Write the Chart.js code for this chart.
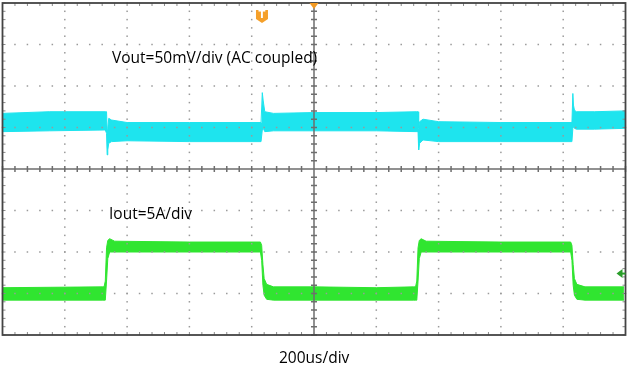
<!DOCTYPE html>
<html>
<head>
<meta charset="utf-8">
<script src="https://cdn.jsdelivr.net/npm/chart.js@4.4.0/dist/chart.umd.min.js"></script>
<style>
html, body { margin: 0; padding: 0; background: #fff; }
#wrap { position: relative; width: 630px; height: 369px; }
.lbl { position: absolute; font-family: "Open Sans", sans-serif; font-size: 15.5px; line-height: 15px; color: #000; white-space: nowrap; }
</style>
</head>
<body>
<div id="wrap">
  <canvas id="scope" width="630" height="369"></canvas>
  <div class="lbl" style="left:112px;top:50px">Vout=50mV/div (AC coupled)</div>
  <div class="lbl" style="left:109px;top:206px">Iout=5A/div</div>
  <div class="lbl" style="left:279px;top:350px">200us/div</div>
</div>
<script>
// scope settings
const timeDivUs = 200;   // 200us/div, 10 divisions
const voltDivMv = 50;    // Vout 50mV/div
const ampDivA = 5;       // Iout 5A/div
const triggerTimeUs = 833;
const triggerLevelA = 2.4;

// Vout (AC coupled) noise band, mV: upper and lower edge of the trace
const vTime  = [0, 150, 330, 334, 336, 338, 341, 350, 400, 600, 830, 832, 834, 837, 842, 870, 1000, 1200, 1330, 1334, 1336, 1339, 1350, 1400, 1600, 1828, 1831, 1833, 1836, 1842, 1900, 2000];
const vUpper = [10, 12, 12, 12, -12, -8, 4, 2, -1, -1, -1, -1, 35, 25, 12, 10, 11, 11, 12, 12, -8, 0, 3, 0, -1, -1, 34, 20, 14, 12, 12, 13];
const vLower = [-12, -11, -10, -14, -40, -34, -26, -24, -23, -24, -24, -24, -10, -8, -12, -11, -11, -11, -12, -12, -34, -26, -22, -24, -24, -24, -8, -6, -8, -9, -9, -8];

// Iout noise band, A
const iTime  = [0, 320, 326, 330, 334, 338, 344, 360, 600, 828, 832, 836, 840, 848, 870, 1000, 1200, 1320, 1326, 1330, 1334, 1338, 1344, 1360, 1600, 1824, 1828, 1832, 1836, 1844, 1870, 1995];
const iUpper = [0.7, 0.8, 0.8, 1.5, 5.5, 6.4, 6.6, 6.3, 6.2, 6.2, 5.8, 3.5, 1.8, 1.1, 0.8, 0.8, 0.7, 0.8, 0.8, 1.5, 5.5, 6.4, 6.6, 6.3, 6.2, 6.2, 5.8, 3.5, 1.8, 1.1, 0.8, 0.8];
const iLower = [-0.8, -0.8, -0.8, -0.8, 1.5, 4.2, 5.0, 5.0, 5.0, 5.0, 4.0, 1.0, -0.2, -0.7, -0.8, -0.8, -0.8, -0.8, -0.8, -0.8, 1.5, 4.2, 5.0, 5.0, 5.0, 5.0, 4.0, 1.0, -0.2, -0.7, -0.8, -0.8];

const vMin = -257, vMax = 143;   // 8 div of Vout, offset +1.14 div
const iMin = -5, iMax = 35;      // 8 div of Iout, offset -3 div

const cyan = '#1ee4ee';
const green = '#30e530';

function pts(xs, ys) { return xs.map((t, k) => ({ x: t, y: ys[k] })); }

const scopeGrid = {
  id: 'scopeGrid',
  afterDatasetsDraw(chart) {
    const { ctx, chartArea: a, scales } = chart;
    const x = scales.x, yV = scales.yV;
    const xs = [], ys = [];
    for (let d = 0; d <= 50; d++) xs.push(x.getPixelForValue(d * timeDivUs / 5));
    for (let d = 0; d <= 40; d++) ys.push(yV.getPixelForValue(vMax - d * voltDivMv / 5));
    ctx.save();
    // dotted division grid
    ctx.fillStyle = '#9a9a9a';
    for (let d = 5; d < 50; d += 5) {
      if (d === 25) continue;
      ys.forEach(py => ctx.fillRect(xs[d] - 0.75, py - 0.75, 1.5, 1.5));
    }
    for (let d = 5; d < 40; d += 5) {
      if (d === 20) continue;
      xs.forEach(px => ctx.fillRect(px - 0.75, ys[d] - 0.75, 1.5, 1.5));
    }
    // centre cross with minor ticks
    const cx = xs[25], cy = ys[20];
    ctx.strokeStyle = '#6e6e6e';
    ctx.lineWidth = 1.5;
    ctx.beginPath();
    ctx.moveTo(cx, a.top); ctx.lineTo(cx, a.bottom);
    ctx.moveTo(a.left, cy); ctx.lineTo(a.right, cy);
    ys.forEach(py => { ctx.moveTo(cx - 3, py); ctx.lineTo(cx + 3, py); });
    xs.forEach(px => { ctx.moveTo(px, cy - 3); ctx.lineTo(px, cy + 3); });
    ctx.stroke();
    // frame ticks
    ctx.strokeStyle = '#8a8a8a';
    ctx.lineWidth = 1;
    ctx.beginPath();
    xs.forEach(px => {
      ctx.moveTo(px, a.top); ctx.lineTo(px, a.top + 3);
      ctx.moveTo(px, a.bottom); ctx.lineTo(px, a.bottom - 3);
    });
    ys.forEach(py => {
      ctx.moveTo(a.left, py); ctx.lineTo(a.left + 3, py);
      ctx.moveTo(a.right, py); ctx.lineTo(a.right - 3, py);
    });
    ctx.stroke();
    // frame
    ctx.strokeStyle = '#444';
    ctx.lineWidth = 1.8;
    ctx.strokeRect(a.left, a.top, a.right - a.left, a.bottom - a.top);
    ctx.restore();
  },
  afterDraw(chart) {
    const { ctx, chartArea: a, scales } = chart;
    ctx.save();
    // trigger position marker
    const tx = scales.x.getPixelForValue(triggerTimeUs);
    ctx.fillStyle = '#f5a02a';
    ctx.beginPath();
    ctx.moveTo(tx - 6, 10); ctx.lineTo(tx + 6, 10); ctx.lineTo(tx + 6, 19);
    ctx.lineTo(tx, 23); ctx.lineTo(tx - 6, 19); ctx.closePath();
    ctx.fill();
    ctx.fillStyle = '#fff';
    ctx.font = 'bold 10px "DejaVu Sans", sans-serif';
    ctx.textAlign = 'center';
    ctx.textBaseline = 'middle';
    ctx.fillText('T', tx, 15.5);
    // centre time marker
    const cx = scales.x.getPixelForValue(5 * timeDivUs);
    ctx.fillStyle = '#f39a22';
    ctx.beginPath();
    ctx.moveTo(cx - 4.5, a.top); ctx.lineTo(cx + 4.5, a.top); ctx.lineTo(cx, a.top + 6); ctx.closePath();
    ctx.fill();
    // trigger level marker (Iout)
    const ly = scales.yI.getPixelForValue(triggerLevelA);
    ctx.fillStyle = '#2a9e2a';
    ctx.beginPath();
    ctx.moveTo(a.right - 9, ly); ctx.lineTo(a.right - 3, ly - 4.5); ctx.lineTo(a.right - 3, ly + 4.5); ctx.closePath();
    ctx.fill();
    ctx.fillRect(a.right - 4, ly - 1, 4, 2);
    ctx.restore();
  }
};

function band(label, xs, up, lo, axis, color) {
  return [
    { label: label + ' max', data: pts(xs, up), yAxisID: axis, borderColor: color, borderWidth: 1, pointRadius: 0, fill: false },
    { label: label + ' min', data: pts(xs, lo), yAxisID: axis, borderColor: color, borderWidth: 1, pointRadius: 0, backgroundColor: color, fill: '-1' }
  ];
}

new Chart(document.getElementById('scope'), {
  type: 'line',
  data: {
    datasets: [
      ...band('Vout', vTime, vUpper, vLower, 'yV', cyan),
      ...band('Iout', iTime, iUpper, iLower, 'yI', green)
    ]
  },
  options: {
    responsive: false,
    animation: false,
    events: [],
    layout: { padding: { left: 2.5, right: 4.5, top: 3, bottom: 34 } },
    elements: { line: { tension: 0 } },
    plugins: { legend: { display: false }, tooltip: { enabled: false } },
    scales: {
      x: { type: 'linear', min: 0, max: 10 * timeDivUs, display: false },
      yV: { type: 'linear', min: vMin, max: vMax, display: false },
      yI: { type: 'linear', min: iMin, max: iMax, display: false }
    }
  },
  plugins: [scopeGrid]
});
</script>
</body>
</html>
